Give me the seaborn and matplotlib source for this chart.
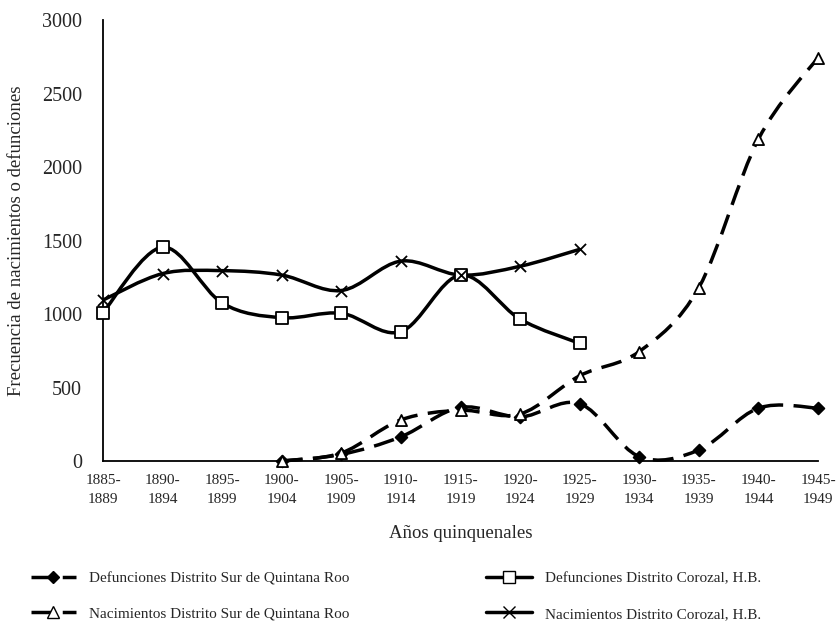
import numpy as np
import pandas as pd
import matplotlib
matplotlib.use('Agg')
import matplotlib.pyplot as plt
from matplotlib.path import Path
from matplotlib.patches import PathPatch
from matplotlib.lines import Line2D
import seaborn as sns

sns.set_style("white")
plt.rcParams['font.family'] = ['Liberation Serif', 'DejaVu Serif']

# --- data ---
periods = ["1885-\n1889", "1890-\n1894", "1895-\n1899", "1900-\n1904", "1905-\n1909",
           "1910-\n1914", "1915-\n1919", "1920-\n1924", "1925-\n1929", "1930-\n1934",
           "1935-\n1939", "1940-\n1944", "1945-\n1949"]

# Corozal series cover 1885-1929, Quintana Roo series cover 1900-1949
def_corozal = [1010, 1455, 1075, 975, 1005, 880, 1265, 965, 800]
nac_corozal = [1095, 1275, 1295, 1265, 1160, 1360, 1265, 1325, 1440]
def_qroo = [0, 45, 165, 365, 300, 390, 30, 75, 360, 360]
nac_qroo = [0, 55, 280, 345, 320, 580, 745, 1180, 2190, 2745]

labels = ["Defunciones Distrito Sur de Quintana Roo",
          "Nacimientos Distrito Sur de Quintana Roo",
          "Defunciones Distrito Corozal, H.B.",
          "Nacimientos Distrito Corozal, H.B."]

DASH = (0, (6, 3))
LW = 2.5


def smooth_path(xs, ys):
    # Excel-like smoothed line: cubic Bezier segments (Catmull-Rom control points)
    pts = np.column_stack([xs, ys]).astype(float)
    n = len(pts)
    verts = [pts[0]]
    codes = [Path.MOVETO]
    for i in range(n - 1):
        p0 = pts[max(i - 1, 0)]
        p1 = pts[i]
        p2 = pts[i + 1]
        p3 = pts[min(i + 2, n - 1)]
        c1 = p1 + (p2 - p0) / 6.0
        c2 = p2 - (p3 - p1) / 6.0
        verts += [c1, c2, p2]
        codes += [Path.CURVE4] * 3
    return Path(verts, codes)


fig = plt.figure(figsize=(8.39, 6.22), dpi=100)
ax = fig.add_axes([0.1228, 0.2588, 0.8522, 0.709])

series = [
    (np.arange(3, 13), def_qroo, 'D', 'black', DASH, 6),
    (np.arange(0, 9), def_corozal, 's', 'white', '-', 8),
    (np.arange(3, 13), nac_qroo, '^', 'white', DASH, 8),
    (np.arange(0, 9), nac_corozal, 'x', 'black', '-', 8),
]

for xs, ys, mk, fc, ls, ms in series:
    patch = PathPatch(smooth_path(xs, ys), facecolor='none', edgecolor='black',
                      linewidth=LW, linestyle=ls, transform=ax.transData, zorder=2,
                      clip_on=False)
    ax.add_patch(patch)
    df = pd.DataFrame({'x': xs, 'y': ys})
    sns.scatterplot(data=df, x='x', y='y', marker=mk, s=ms ** 2, color=fc,
                    edgecolor='black', linewidth=1.3, ax=ax, zorder=3, legend=False,
                    clip_on=False)

ax.set_xlim(0, 12)
ax.set_ylim(0, 3000)
ax.set_xticks(range(13))
ax.set_xticklabels(periods, fontsize=11, linespacing=1.6)
ax.set_yticks(range(0, 3001, 500))
ax.tick_params(axis='y', labelsize=14.5, direction='out', length=5, width=1, pad=10)
ax.tick_params(axis='x', direction='out', length=3, width=1, pad=6)
ax.set_xlabel("Años quinquenales", fontsize=13.5, labelpad=14)
ax.set_ylabel("Frecuencia de nacimientos o defunciones", fontsize=13.5, labelpad=12)
for side in ['top', 'right']:
    ax.spines[side].set_visible(False)
for side in ['left', 'bottom']:
    ax.spines[side].set_linewidth(1.3)
    ax.spines[side].set_color('black')

handles = [
    Line2D([], [], color='black', lw=LW, ls=DASH, marker='D', ms=6,
           mfc='black', mec='black'),
    Line2D([], [], color='black', lw=LW, ls=DASH, marker='^', ms=8,
           mfc='white', mec='black'),
    Line2D([], [], color='black', lw=LW, ls='-', marker='s', ms=8,
           mfc='white', mec='black'),
    Line2D([], [], color='black', lw=LW, ls='-', marker='x', ms=8,
           mfc='black', mec='black'),
]
fig.legend(handles, labels, loc='lower left', bbox_to_anchor=(0.02, -0.02), ncol=2,
           frameon=False, fontsize=11, handlelength=3, columnspacing=9.0,
           labelspacing=1.4, borderaxespad=0.5)

fig.savefig("out.png", dpi=100)
